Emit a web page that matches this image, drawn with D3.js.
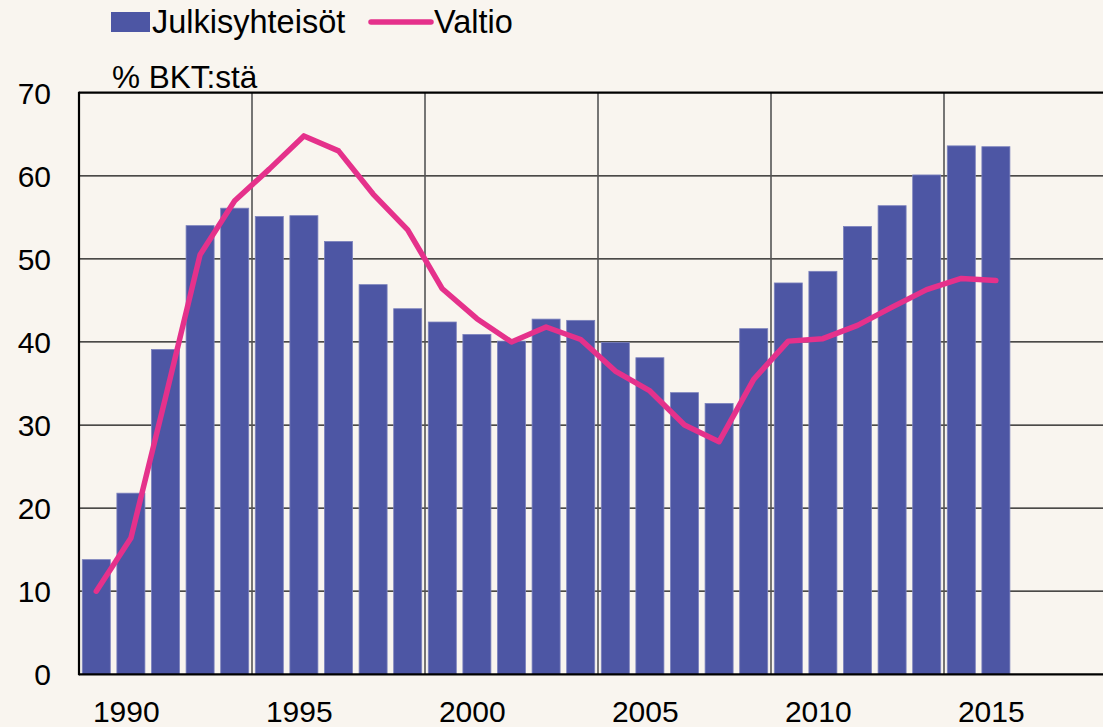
<!DOCTYPE html>
<html><head><meta charset="utf-8">
<script src="https://cdn.jsdelivr.net/npm/d3@7"></script>
<style>
html,body{margin:0;padding:0;background:#f9f5ef;}
svg{display:block;font-family:"Liberation Sans",Arial,sans-serif;}
</style></head>
<body><svg id="c" width="1103" height="727"></svg>
<script>
const years = [1990,1991,1992,1993,1994,1995,1996,1997,1998,1999,2000,2001,2002,2003,2004,2005,2006,2007,2008,2009,2010,2011,2012,2013,2014,2015,2016];
const julkisyhteisot = [13.8,21.8,39.1,54.0,56.1,55.1,55.2,52.1,46.9,44.0,42.4,40.9,40.1,42.75,42.6,39.95,38.1,33.9,32.6,41.6,47.1,48.5,53.9,56.4,60.1,63.6,63.5];
const valtio = [10.0,16.4,33.3,50.5,57.0,60.8,64.8,63.0,57.8,53.5,46.4,42.8,40.0,41.8,40.3,36.5,34.1,30.0,28.0,35.5,40.1,40.4,42.0,44.2,46.3,47.65,47.4];
const yTicks = [0,10,20,30,40,50,60,70];
const xLabelYears = [1990,1995,2000,2005,2010,2015];
const gridYears = [1995,2000,2005,2010,2015];
const domainYears = d3.range(1990,2020);
const seriesNames = ["Julkisyhteisöt","Valtio"];
const unitLabel = "% BKT:stä";

(function(){
const svg = d3.select("#c");
const W = 1103, H = 727;
const pL = 79, pT = 92.7, pB = 674.3, bandW = 34.6;
const x = d3.scaleBand().domain(domainYears).range([pL, pL + bandW*domainYears.length]).paddingInner(0.19).paddingOuter(0.095);
const xb = d3.scaleBand().domain(domainYears).range([pL, pL + bandW*domainYears.length]);
const y = d3.scaleLinear().domain([0,70]).range([pB, pT]);

svg.append("rect").attr("width",W).attr("height",H).attr("fill","#f9f5ef");

// horizontal gridlines
svg.append("g").selectAll("line").data(yTicks.filter(d=>d>0 && d<70)).join("line")
  .attr("x1",pL).attr("x2",W).attr("y1",d=>y(d)).attr("y2",d=>y(d))
  .attr("stroke","#111").attr("stroke-width",1.3);
// vertical gridlines
svg.append("g").selectAll("line").data(gridYears).join("line")
  .attr("x1",d=>xb(d)).attr("x2",d=>xb(d)).attr("y1",pT).attr("y2",pB)
  .attr("stroke","#555").attr("stroke-width",1.6);

// bars
svg.append("g").selectAll("rect").data(years).join("rect")
  .attr("x",(d)=>x(d)).attr("width",x.bandwidth())
  .attr("y",(d,i)=>y(julkisyhteisot[i])).attr("height",(d,i)=>pB - y(julkisyhteisot[i]))
  .attr("fill","#4d56a4").attr("stroke","#7c82bd").attr("stroke-width",0.8);

// border
svg.append("line").attr("x1",pL).attr("x2",W).attr("y1",pT).attr("y2",pT).attr("stroke","#000").attr("stroke-width",2.2);
svg.append("line").attr("x1",pL).attr("x2",pL).attr("y1",pT-1).attr("y2",pB+1).attr("stroke","#000").attr("stroke-width",2.2);
svg.append("line").attr("x1",pL).attr("x2",W).attr("y1",pB).attr("y2",pB).attr("stroke","#000").attr("stroke-width",2.2);

// line
const line = d3.line().x((d,i)=>xb(years[i]) + xb.bandwidth()/2).y(d=>y(d));
svg.append("path").datum(valtio).attr("d",line).attr("fill","none")
  .attr("stroke","#e5318b").attr("stroke-width",5.5).attr("stroke-linejoin","round").attr("stroke-linecap","round");

// y axis labels
svg.append("g").selectAll("text").data(yTicks).join("text")
  .attr("x",51).attr("y",d=>y(d)).attr("dy","0.36em").attr("text-anchor","end")
  .attr("font-size",30).attr("fill","#000").text(d=>d);

// x labels
svg.append("g").selectAll("text").data(xLabelYears).join("text")
  .attr("x",d=>xb(d) + xb.bandwidth()/2 + 30).attr("y",722).attr("text-anchor","middle")
  .attr("font-size",30).attr("fill","#000").text(d=>d);

// unit label
svg.append("text").attr("x",112).attr("y",88).attr("font-size",31.5).attr("fill","#000").text(unitLabel);

// legend
svg.append("rect").attr("x",111).attr("y",12).attr("width",39).attr("height",20).attr("fill","#4d56a4");
svg.append("text").attr("x",152).attr("y",33).attr("font-size",32.5).attr("fill","#000").text(seriesNames[0]);
svg.append("line").attr("x1",371).attr("x2",431).attr("y1",22).attr("y2",22).attr("stroke","#e5318b").attr("stroke-width",5.5).attr("stroke-linecap","round");
svg.append("text").attr("x",434).attr("y",33).attr("font-size",32.5).attr("fill","#000").text(seriesNames[1]);
})();
</script></body></html>
